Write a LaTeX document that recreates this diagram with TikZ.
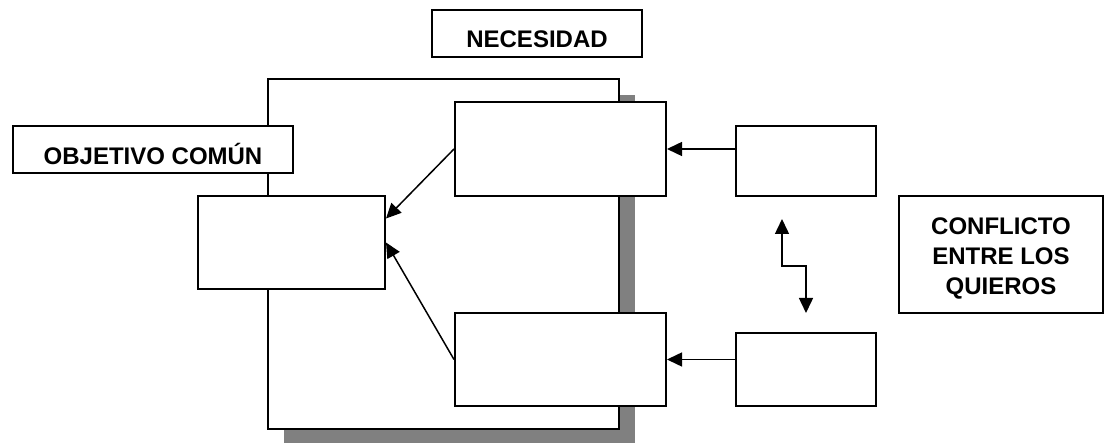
\documentclass[tikz,border=0pt]{standalone}
\usepackage{fontspec}
\setmainfont{Liberation Sans}
\usetikzlibrary{arrows.meta}
\begin{document}
\begin{tikzpicture}[x=1pt,y=-1pt,
  box/.style={draw=black,fill=white,line width=2pt,inner sep=0pt,
    minimum width=#1},
  label/.style={font=\fontsize{24}{30}\selectfont\bfseries,align=center,inner sep=0pt},
  tip/.tip={Triangle[length=15pt,width=14pt]},
  arr/.style={line width=1.5pt,-tip},
  dbl/.style={line width=1.5pt,tip-tip}]
\useasboundingbox (0,0) rectangle (1105,443);
% outer frame with its drop shadow
\fill[gray] (284,95) rectangle (635,443);
\node[box=351pt,minimum height=350pt] (frame) at (443.5,254) {};
% titled boxes
\node[box=210pt,minimum height=47pt] (nec) at (537,33.5) {};
\node[label] (nectext) at ([yshift=-6pt]nec.center) {NECESIDAD};
\node[box=280pt,minimum height=47pt] (obj) at (153,149.5) {};
\node[label] (objtext) at ([yshift=-4pt]obj.center) {OBJETIVO COMÚN};
\node[box=204pt,minimum height=117pt] (conf) at (1001,254.5) {};
\node[label] (conftext) at ([yshift=-4pt]conf.center) {CONFLICTO\\ENTRE LOS\\QUIEROS};
% empty boxes
\node[box=187pt,minimum height=93pt] (lb) at (291.5,242.5) {};
\node[box=211pt,minimum height=94pt] (ui) at (560.5,149) {};
\node[box=211pt,minimum height=93pt] (li) at (560.5,359.5) {};
\node[box=140pt,minimum height=70pt] (ru) at (806,161) {};
\node[box=140pt,minimum height=73pt] (rl) at (806,369.5) {};
% connectors
\draw[arr] (ui.east -| ru.west) -- (ui.east);
\draw[arr] (li.east -| rl.west) -- (li.east);
\draw[arr] (ui.west) -- ([yshift=24pt]lb.east);
\draw[arr] (li.west) -- (lb.east);
\coordinate (e1) at (782,219);
\coordinate (e2) at (806,313);
\draw[dbl] (e1) -- ++(0,47) -| (e2);
\end{tikzpicture}
\end{document}
